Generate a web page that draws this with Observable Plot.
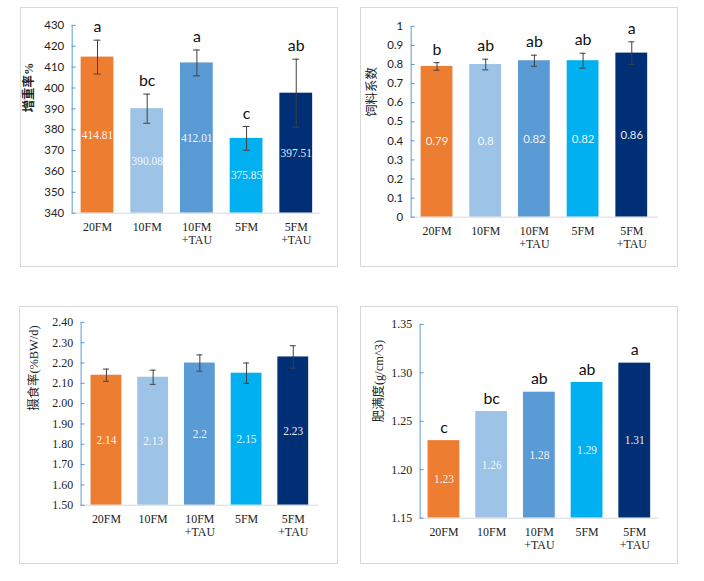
<!DOCTYPE html>
<html><head><meta charset="utf-8">
<script src="https://cdn.jsdelivr.net/npm/d3@7"></script>
<script src="https://cdn.jsdelivr.net/npm/@observablehq/plot@0.6"></script>
<style>
body{margin:0;background:#fff}
#root{position:relative;width:704px;height:581px;overflow:hidden}
.panel{position:absolute;border:1px solid #d9d9d9;box-sizing:border-box}
.panel svg{position:absolute;left:-1px;top:-1px}
</style>
</head><body><div id="root"></div>
<script>
const groups = ["20FM", "10FM", "10FM+TAU", "5FM", "5FM+TAU"];
const colors = ["#ED7D31", "#9DC3E6", "#5B9BD5", "#00B0F0", "#002F75"];

// 增重率%
const wgrValues = [414.81, 390.08, 412.01, 375.85, 397.51];
const wgrErrors = [8.1, 7.0, 6.2, 5.7, 16.3];
const wgrLetters = ["a", "bc", "a", "c", "ab"];
const wgrTicks = [340, 350, 360, 370, 380, 390, 400, 410, 420, 430];

// 饲料系数
const fcValues = [0.79, 0.80, 0.82, 0.82, 0.86];
const fcErrors = [0.02, 0.028, 0.029, 0.039, 0.059];
const fcLetters = ["b", "ab", "ab", "ab", "a"];
const fcTicks = [0, 0.1, 0.2, 0.3, 0.4, 0.5, 0.6, 0.7, 0.8, 0.9, 1];

// 摄食率(%BW/d)
const frValues = [2.14, 2.13, 2.20, 2.15, 2.23];
const frErrors = [0.03, 0.035, 0.04, 0.05, 0.055];
const frTicks = [1.50, 1.60, 1.70, 1.80, 1.90, 2.00, 2.10, 2.20, 2.30, 2.40];

// 肥满度(g/cm^3)
const cfValues = [1.23, 1.26, 1.28, 1.29, 1.31];
const cfLetters = ["c", "bc", "ab", "ab", "a"];
const cfTicks = [1.15, 1.20, 1.25, 1.30, 1.35];

const SERIF = "'Liberation Serif', 'Times New Roman', serif";
const SANS = "Lato, 'Liberation Sans', sans-serif";
const TITLE = "'Liberation Serif', 'Noto Sans CJK SC', serif";

function makePanel(cfg) {
  const {box, m, values, errors, letters, ticks, tickFmt, tickFont, tickFs, valueFont, title, titleDx, titleDy, titleWeight, inset} = cfg;
  const ymin = ticks[0], ymax = ticks[ticks.length - 1];
  const data = groups.map((g, i) => ({
    g, v: values[i],
    e: errors ? errors[i] : 0,
    letter: letters ? letters[i] : ""
  }));
  const marks = [
    Plot.barY(data, {x: "g", y1: ymin, y2: "v", fill: "g"}),
    Plot.ruleY([ymin], {stroke: "#d9d9d9", strokeWidth: 1}),
    Plot.frame({anchor: "left", stroke: "#5B9BD5", strokeWidth: 1}),
    Plot.axisY({ticks, tickSize: 4, dx: 4, tickFormat: () => "", stroke: "#5B9BD5", label: null}),
    Plot.axisY({ticks, tickSize: 0, tickPadding: 8, tickFormat: tickFmt, fontFamily: tickFont, fontSize: tickFs, fill: "#222", label: null}),
    Plot.axisX({tickSize: 0, tickPadding: 9, tickFormat: d => d.replace("+", "\n+"), fontFamily: SERIF, fontSize: 12, lineHeight: 1.05, fill: "#222", label: null}),
    Plot.text([title], {text: d => d, frameAnchor: "left", rotate: -90, dx: titleDx, dy: titleDy, fontFamily: TITLE, fontSize: 12.5, fontWeight: titleWeight, fill: "#222"}),
    Plot.text(data, {x: "g", y: d => (ymin + d.v) / 2, text: d => String(d.v), fill: "#fff", fillOpacity: 0.92, fontFamily: valueFont, fontSize: 11.5})
  ];
  if (errors) {
    marks.push(
      Plot.ruleX(data, {x: "g", y1: d => d.v - d.e, y2: d => d.v + d.e, stroke: "#404040", strokeWidth: 1}),
      Plot.tickY(data, {x: "g", y: d => d.v + d.e, inset, stroke: "#404040", strokeWidth: 1}),
      Plot.tickY(data, {x: "g", y: d => d.v - d.e, inset, stroke: "#404040", strokeWidth: 1})
    );
  }
  if (letters) {
    marks.push(Plot.text(data, {x: "g", y: d => d.v + d.e, text: "letter", dy: -8, lineAnchor: "bottom", fontFamily: SANS, fontSize: 16, fill: "#111"}));
  }
  const plot = Plot.plot({
    width: box[2], height: box[3],
    marginLeft: m[0], marginRight: m[1], marginTop: m[2], marginBottom: m[3],
    style: {background: "transparent", fontFamily: SERIF, overflow: "visible"},
    x: {domain: groups, paddingInner: 0.34, paddingOuter: 0.17, label: null, axis: null},
    y: {domain: [ymin, ymax], label: null, axis: null},
    color: {domain: groups, range: colors},
    marks
  });
  const div = document.createElement("div");
  div.className = "panel";
  div.style.left = box[0] + "px";
  div.style.top = box[1] + "px";
  div.style.width = box[2] + "px";
  div.style.height = box[3] + "px";
  div.appendChild(plot);
  document.getElementById("root").appendChild(div);
}

makePanel({box: [20, 7, 318, 260], m: [52, 16, 18, 53], values: wgrValues, errors: wgrErrors, letters: wgrLetters,
  ticks: wgrTicks, tickFmt: d => String(d), tickFont: SANS, tickFs: 11.5, valueFont: SERIF,
  title: "增重率%", titleDx: -43, titleDy: -7, titleWeight: "bold", inset: 13});
makePanel({box: [360, 7, 318, 260], m: [51, 18, 19, 49], values: fcValues, errors: fcErrors, letters: fcLetters,
  ticks: fcTicks, tickFmt: d => String(d), tickFont: SANS, tickFs: 11.5, valueFont: SANS,
  title: "饲料系数", titleDx: -39, titleDy: -5, titleWeight: "normal", inset: 13});
makePanel({box: [19, 306, 319, 258], m: [62, 18, 16, 58], values: frValues, errors: frErrors, letters: null,
  ticks: frTicks, tickFmt: d => d.toFixed(2), tickFont: SERIF, tickFs: 12, valueFont: SERIF,
  title: "摄食率(%BW/d)", titleDx: -47, titleDy: -3, titleWeight: "normal", inset: 12.5});
makePanel({box: [360, 306, 318, 258], m: [60, 18, 18, 45], values: cfValues, errors: null, letters: cfLetters,
  ticks: cfTicks, tickFmt: d => d.toFixed(2), tickFont: SERIF, tickFs: 12, valueFont: SERIF,
  title: "肥满度(g/cm^3)", titleDx: -41, titleDy: 1, titleWeight: "normal", inset: 12.5});
</script>
</body></html>
